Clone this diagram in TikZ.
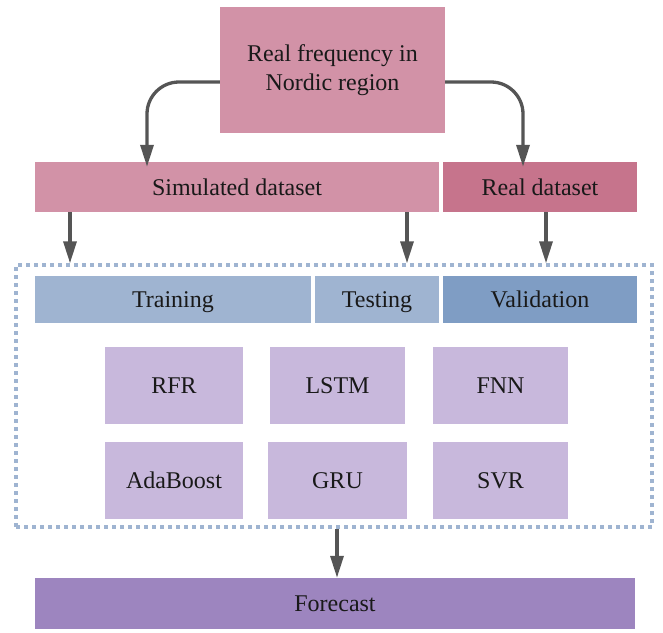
\documentclass[tikz,border=0pt]{standalone}
\usepackage{fontspec}
\setmainfont{Liberation Serif}
\usetikzlibrary{arrows.meta}
\definecolor{pinkA}{HTML}{D292A7}
\definecolor{pinkB}{HTML}{C6748C}
\definecolor{blueA}{HTML}{9FB4D1}
\definecolor{blueB}{HTML}{7F9DC4}
\definecolor{lilac}{HTML}{C8B8DC}
\definecolor{purp}{HTML}{9D85BF}
\definecolor{arr}{HTML}{555555}
\begin{document}
\begin{tikzpicture}[x=1pt,y=-1pt,
  box/.style={draw=none,inner sep=0pt,align=center,font=\fontsize{24}{29}\selectfont,text=black!90},
  one/.style={box,text height=16pt,text depth=0pt},
  link/.style={draw=arr,line width=3.3pt,-{Triangle[length=22pt,width=13pt]}},
  frame/.style={draw=blueA,line width=3.4pt,dash pattern=on 4pt off 4pt,inner sep=0pt}]
\useasboundingbox (0,0) rectangle (663,632);
\node[box,text height=40pt,text depth=0pt,fill=pinkA,minimum width=225pt,minimum height=126pt] (top) at (332.5,70) {Real frequency in\\Nordic region};
\node[one,fill=pinkA,minimum width=404pt,minimum height=50pt] (sim) at (237,187) {Simulated dataset};
\node[one,fill=pinkB,minimum width=194pt,minimum height=50pt] (real) at (540,187) {Real dataset};
\node[frame,minimum width=636pt,minimum height=262pt] (frame) at (334,396) {};
\node[one,fill=blueA,minimum width=276pt,minimum height=47pt] (train) at (173,299.5) {Training};
\node[one,fill=blueA,minimum width=124pt,minimum height=47pt] (test) at (377,299.5) {Testing};
\node[one,fill=blueB,minimum width=194pt,minimum height=47pt] (val) at (540,299.5) {Validation};
\node[one,fill=lilac,minimum width=138pt,minimum height=77pt] (rfr) at (174,385.5) {RFR};
\node[one,fill=lilac,minimum width=135pt,minimum height=77pt] (lstm) at (337.5,385.5) {LSTM};
\node[one,fill=lilac,minimum width=135pt,minimum height=77pt] (fnn) at (500.5,385.5) {FNN};
\node[one,fill=lilac,minimum width=138pt,minimum height=77pt] (ada) at (174,480.5) {AdaBoost};
\node[one,fill=lilac,minimum width=139pt,minimum height=77pt] (gru) at (337.5,480.5) {GRU};
\node[one,fill=lilac,minimum width=135pt,minimum height=77pt] (svr) at (500.5,480.5) {SVR};
\node[one,fill=purp,minimum width=600pt,minimum height=51pt] (fc) at (335,603.5) {Forecast};
\coordinate (xl) at (147,0);
\coordinate (xr) at (523,0);
\coordinate (x1) at (70,0);
\coordinate (x2) at (407,0);
\coordinate (x3) at (546,0);
\coordinate (x4) at (337,0);
\draw[link,rounded corners=32pt] ([yshift=-12pt]top.west) -| ([yshift=-5pt]sim.north -| xl);
\draw[link,rounded corners=32pt] ([yshift=-12pt]top.east) -| ([yshift=-5pt]real.north -| xr);
\draw[link] (sim.south -| x1) -- (frame.north -| x1);
\draw[link] (sim.south -| x2) -- (frame.north -| x2);
\draw[link] (real.south -| x3) -- (frame.north -| x3);
\draw[link] (frame.south -| x4) -- (fc.north -| x4);
\end{tikzpicture}
\end{document}
